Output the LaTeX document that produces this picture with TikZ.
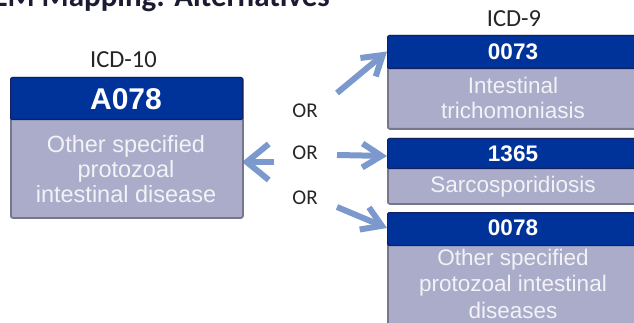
\documentclass[tikz,border=0pt]{standalone}
\usepackage{fontspec}
\setmainfont{Liberation Sans}
\newfontfamily\calibri{Carlito}
\usetikzlibrary{arrows.meta,calc}

\definecolor{navy}{RGB}{0,51,153}
\definecolor{navyedge}{RGB}{18,32,98}
\definecolor{lav}{RGB}{170,172,202}
\definecolor{lavedge}{RGB}{118,118,140}
\definecolor{arrowblue}{RGB}{124,153,206}
\definecolor{labelgray}{RGB}{38,38,38}
\definecolor{bodytxt}{RGB}{242,242,247}
\definecolor{titlecol}{RGB}{27,27,50}

\begin{document}
\begin{tikzpicture}[x=1pt,y=-1pt,
  boxbody/.style={draw=lavedge, line width=1.8pt, fill=lav, rounded corners=2pt,
                  anchor=north west, inner sep=0pt},
  boxhead/.style={draw=navyedge, line width=1.2pt, fill=navy, rounded corners=1.5pt,
                  anchor=north west, inner sep=0pt},
  codetext/.style={text=white, font=\bfseries\fontsize{#1}{#1}\selectfont, anchor=base, inner sep=0pt},
  desc/.style={text=bodytxt, align=center, inner sep=0pt},
  lbl/.style={text=labelgray, font=\calibri\fontsize{24.5}{24.5}\selectfont, anchor=base, inner sep=0pt},
  ortext/.style={text=labelgray, font=\calibri\fontsize{21}{21}\selectfont, inner sep=0pt},
  arr/.style={draw=arrowblue, line width=6pt},
]
\useasboundingbox (0,0) rectangle (634,323);
\clip (0,0) rectangle (634,323);

% slide title (runs off the top edge)
\node[anchor=base east, inner sep=0pt, text=titlecol,
      font=\calibri\bfseries\fontsize{31}{31}\selectfont] (title) at (330,7) {GEM Mapping: Alternatives};

% column labels
\node[lbl] (icd10) at (123.5,68) {ICD-10};
\node[lbl] (icd9) at (514,27) {ICD-9};

% arrow end points
\coordinate (ltail) at (274,162);
\coordinate (t1) at (337,93);
\coordinate (t2) at (337,155);
\coordinate (t3) at (337,207);

% arrows (drawn under the boxes)
\draw[arr, -{Straight Barb[length=22pt,width=36pt]}] (ltail) -- (242,162);
\draw[arr, -{Straight Barb[length=19pt,width=24pt]}] (t1) -- (387,51.5);
\draw[arr, -{Straight Barb[length=19pt,width=24pt]}] (t2) -- (387,156);
\draw[arr, -{Straight Barb[length=19pt,width=24pt]}] (t3) -- (387,228);

% ICD-10 code box
\node[boxbody, minimum width=232pt, minimum height=140pt] (lbox) at (10,77) {};
\node[boxhead, minimum width=232pt, minimum height=42pt] (lhead) at (10,77) {};
\node[codetext=30] (lcode) at (126,110) {A078};
\node[desc, font=\fontsize{23.5}{25}\selectfont] (ldesc) at (126,169)
  {Other specified\\protozoal\\intestinal disease};

% ICD-9 code boxes
\node[boxbody, minimum width=253pt, minimum height=93pt] (rbox1) at (387,35) {};
\node[boxhead, minimum width=253pt, minimum height=33pt] (rhead1) at (387,35) {};
\node[codetext=22.5] (rcode1) at (513,60) {0073};
\node[desc, font=\fontsize{22.5}{25}\selectfont] (rdesc1) at (513,97.5)
  {Intestinal\\trichomoniasis};

\node[boxbody, minimum width=253pt, minimum height=65pt] (rbox2) at (387,138) {};
\node[boxhead, minimum width=253pt, minimum height=30pt] (rhead2) at (387,138) {};
\node[codetext=22.5] (rcode2) at (513,162) {1365};
\node[desc, font=\fontsize{22.5}{25}\selectfont, anchor=base] (rdesc2) at (513,193)
  {Sarcosporidiosis};

\node[boxbody, minimum width=253pt, minimum height=130pt] (rbox3) at (387,212) {};
\node[boxhead, minimum width=253pt, minimum height=33pt] (rhead3) at (387,212) {};
\node[codetext=22.5] (rcode3) at (513,235) {0078};
\node[desc, font=\fontsize{22.5}{26.5}\selectfont] (rdesc3) at (513,283.5)
  {Other specified\\protozoal intestinal\\diseases};

% alternative markers
\node[ortext] (or1) at (305,111) {OR};
\node[ortext] (or2) at (305,153) {OR};
\node[ortext] (or3) at (305,198) {OR};
\end{tikzpicture}
\end{document}
